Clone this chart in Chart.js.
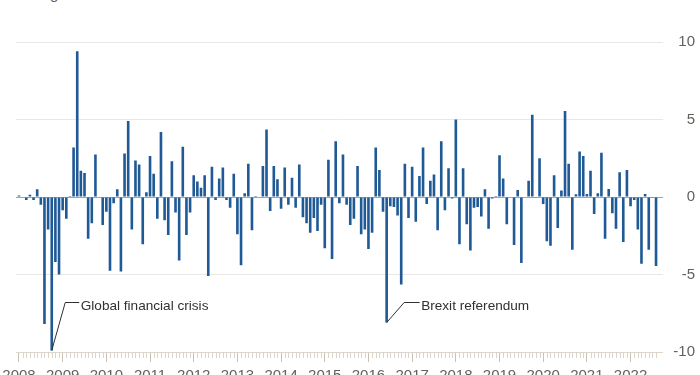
<!DOCTYPE html>
<html>
<head>
<meta charset="utf-8">
<script src="https://cdn.jsdelivr.net/npm/chart.js@4.4.1/dist/chart.umd.min.js"></script>
<style>
  html, body { margin: 0; padding: 0; background: #fff; }
  .frame { position: relative; width: 700px; height: 375px; overflow: hidden; }
  .unit { position: absolute; left: 0; top: -14px; font: 15px "Liberation Sans", Arial, sans-serif; line-height: 15px; color: #66605c; }
  canvas { position: absolute; left: 0; top: 0; }
</style>
</head>
<body>
<div class="frame">
  <div class="unit">% change</div>
  <canvas id="changeChart" width="700" height="390"></canvas>
</div>
<script>
const yearLabels = ["2008", "2009", "2010", "2011", "2012", "2013", "2014", "2015",
  "2016", "2017", "2018", "2019", "2020", "2021", "2022"];

// monthly % change, Jan 2008 onwards, one line per year
const monthlyChange = [
  0.1, 0.0, -0.2, 0.15, -0.2, 0.5, -0.5, -8.2, -2.1, -9.9, -4.2, -5.0,
  -0.85, -1.4, 0.07, 3.2, 9.4, 1.7, 1.55, -2.7, -1.7, 2.75, 0.0, -1.8,
  -0.95, -4.75, -0.4, 0.5, -4.8, 2.8, 4.9, -2.1, 2.35, 2.1, -3.05, 0.3,
  2.65, 1.5, -1.4, 4.2, -1.5, -2.45, 2.3, -1.0, -4.1, 3.25, -2.45, -1.0,
  1.4, 1.0, 0.6, 1.4, -5.1, 1.95, -0.2, 1.2, 1.9, -0.2, -0.7, 1.5,
  -2.4, -4.4, 0.25, 2.15, -2.15, 0.06, 0.0, 2.0, 4.35, -0.9, 2.0, 1.15,
  -0.75, 1.9, -0.5, 1.25, -0.7, 2.1, -1.3, -1.7, -2.3, -1.35, -2.2, -0.5,
  -3.3, 2.4, -4.0, 3.6, -0.4, 2.75, -0.5, -1.8, -1.4, 2.0, -2.4, -2.1,
  -3.35, -2.3, 3.2, 1.75, -0.95, -8.1, -0.6, -0.65, -1.2, -5.65, 2.15, -1.35,
  1.95, -1.6, 1.35, 3.2, -0.45, 1.05, 1.45, -2.15, 3.6, -0.85, 1.85, -0.1,
  5.0, -3.05, 1.85, -1.75, -3.45, -0.7, -0.65, -1.25, 0.5, -2.05, -0.1, 0.07,
  2.7, 1.2, -1.75, 0.0, -3.1, 0.45, -4.25, 0.0, 1.05, 5.3, -0.05, 2.5,
  -0.45, -2.85, -3.15, 1.4, -2.0, 0.42, 5.55, 2.15, -3.4, 0.17, 2.93, 2.65,
  0.2, 1.7, -1.1, 0.25, 2.85, -2.7, 0.52, -1.05, -2.05, 1.6, -2.9, 1.75,
  -0.6, -0.2, -2.1, -4.3, 0.2, -3.4, -0.05, -4.45,
];

const yTicks = [-10, -5, 0, 5, 10];

const callouts = [
  { text: "Global financial crisis", month: 9 },
  { text: "Brexit referendum", month: 101 },
];

const fontFamily = '"Liberation Sans", Arial, sans-serif';
const inkColor = "#33302e";
const axisTextColor = "#66605c";

// leader lines: elbow level (in % units), then [sideways step, horizontal run] in px
const calloutLevel = -6.8;
const calloutLegs = [[13.5, 14], [17.5, 15.5]];

const calloutPlugin = {
  id: "callouts",
  afterDatasetsDraw(chart) {
    const { ctx, scales: { x, y } } = chart;
    ctx.save();
    ctx.strokeStyle = inkColor;
    ctx.fillStyle = inkColor;
    ctx.lineWidth = 1;
    ctx.font = `13.6px ${fontFamily}`;
    ctx.textBaseline = "alphabetic";
    callouts.forEach((callout, i) => {
      const [step, run] = calloutLegs[i];
      const x0 = x.getPixelForValue(callout.month);
      const y0 = y.getPixelForValue(monthlyChange[callout.month]);
      const yElbow = Math.round(y.getPixelForValue(calloutLevel)) + 0.5;
      ctx.beginPath();
      ctx.moveTo(x0, y0);
      ctx.lineTo(x0 + step, yElbow);
      ctx.lineTo(x0 + step + run, yElbow);
      ctx.stroke();
      ctx.fillText(callout.text, x0 + step + run + 1.5, yElbow + 7);
    });
    ctx.restore();
  },
};

const monthTickPlugin = {
  id: "monthTicks",
  afterDraw(chart) {
    const { ctx, chartArea, scales: { x } } = chart;
    ctx.save();
    ctx.strokeStyle = "#dcd4cb";
    ctx.lineWidth = 1;
    ctx.beginPath();
    monthlyChange.forEach((_, i) => {
      if (i % 12 === 0) {
        return;
      }
      const px = Math.round(x.getPixelForValue(i)) + 0.5;
      ctx.moveTo(px, chartArea.bottom);
      ctx.lineTo(px, chartArea.bottom + 6);
    });
    ctx.stroke();
    ctx.restore();
  },
};

new Chart(document.getElementById("changeChart"), {
  type: "bar",
  data: {
    datasets: [
      {
        data: monthlyChange.map((value, i) => ({ x: i, y: value })),
        backgroundColor: "#205a96",
        barPercentage: 0.9,
        categoryPercentage: 0.8,
      },
    ],
  },
  options: {
    responsive: false,
    animation: false,
    layout: { padding: { left: 16, right: 5, top: 42, bottom: 0 } },
    plugins: {
      legend: { display: false },
      tooltip: { enabled: false },
    },
    scales: {
      x: {
        type: "linear",
        offset: false,
        min: -0.82,
        max: 177,
        afterBuildTicks: (scale) => {
          scale.ticks = yearLabels.map((_, i) => ({ value: i * 12 }));
        },
        afterFit: (scale) => {
          scale.paddingLeft = 0;
          scale.paddingRight = 0;
        },
        border: { display: false },
        grid: {
          offset: false,
          drawOnChartArea: false,
          tickLength: 10,
          tickColor: "#cbc1b7",
        },
        ticks: {
          autoSkip: false,
          maxRotation: 0,
          padding: 5,
          color: axisTextColor,
          font: { family: fontFamily, size: 15 },
          callback: (value) => yearLabels[value / 12] ?? "",
        },
      },
      y: {
        position: "right",
        min: -10,
        max: 10,
        afterBuildTicks: (scale) => {
          scale.ticks = yTicks.map((value) => ({ value }));
        },
        border: { display: false },
        grid: {
          drawTicks: false,
          color: (context) => {
            if (context.tick.value === 0) {
              return "#aaa39d";
            }
            return context.tick.value === -10 ? "#ddd6ce" : "#ebe7e3";
          },
          lineWidth: 1,
        },
        ticks: {
          crossAlign: "far",
          padding: 5,
          color: axisTextColor,
          font: { family: fontFamily, size: 15 },
        },
      },
    },
  },
  plugins: [monthTickPlugin, calloutPlugin],
});
</script>
</body>
</html>
